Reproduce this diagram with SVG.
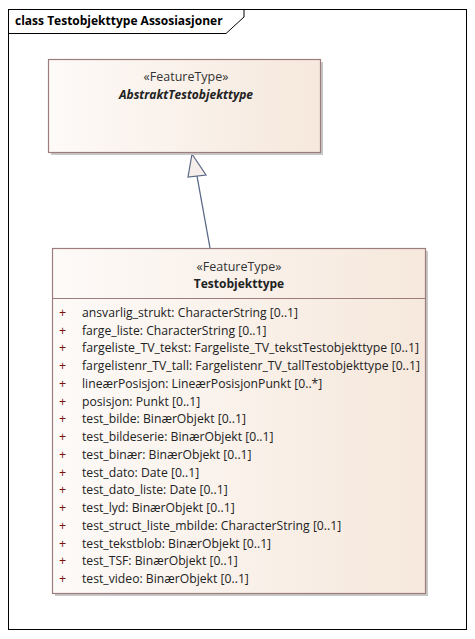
<svg xmlns="http://www.w3.org/2000/svg" width="475" height="639" viewBox="0 0 475 639">
<defs>
<linearGradient id="g" x1="0" y1="0" x2="1" y2="0">
<stop offset="0" stop-color="#fdfaf8"/>
<stop offset="1" stop-color="#f6e8dc"/>
</linearGradient>
<style>
text{font-family:"Open Sans","Liberation Sans",sans-serif;fill:#222}
.st{font-size:12.5px;text-anchor:middle;fill:#333}
.nm{font-size:12px;font-weight:bold;text-anchor:middle}
.at{font-size:12.2px}
.pl{font-size:12.5px;fill:#7a1010}
.box{fill:url(#g);stroke:#9c7c7c;stroke-width:1.2}
.sh{fill:#c8c8c8}
</style>
</defs>
<rect x="0" y="0" width="475" height="639" fill="#fff"/>
<g id="frame">
<rect x="8.5" y="9.5" width="458" height="620" fill="none" stroke="#000" stroke-width="1"/>
<path d="M8.5 33.5 H226 L244 17 V9.5" fill="none" stroke="#000" stroke-width="1"/>
<text x="15" y="25" style="font-size:12px;font-weight:bold;fill:#000">class Testobjekttype Assosiasjoner</text>
</g>
<g id="connectors">
<line x1="210" y1="248" x2="197" y2="176" stroke="#5a6888" stroke-width="1.3"/>
<polygon points="192,154 188,177 206,175" fill="#f6eeea" stroke="#5a6888" stroke-width="1.2"/>
</g>
<g id="AbstraktTestobjekttype">
<rect class="sh" x="51" y="62" width="272" height="93"/>
<rect class="box" x="48.5" y="59.5" width="272" height="93"/>
<text class="st" x="186" y="81">«FeatureType»</text>
<text class="nm" x="186" y="99" font-style="italic">AbstraktTestobjekttype</text>
</g>
<g id="Testobjekttype">
<rect class="sh" x="55" y="251" width="373" height="345"/>
<rect class="box" x="52.5" y="248.5" width="373" height="345"/>
<line x1="52.5" y1="298.5" x2="425.5" y2="298.5" stroke="#9c7c7c" stroke-width="1.2"/>
<text class="st" x="239" y="271">«FeatureType»</text>
<text class="nm" x="239" y="288">Testobjekttype</text>
<g class="pl">
<text class="pl" x="59" y="317">+</text>
<text class="pl" x="59" y="335">+</text>
<text class="pl" x="59" y="352">+</text>
<text class="pl" x="59" y="370">+</text>
<text class="pl" x="59" y="388">+</text>
<text class="pl" x="59" y="406">+</text>
<text class="pl" x="59" y="423">+</text>
<text class="pl" x="59" y="441">+</text>
<text class="pl" x="59" y="459">+</text>
<text class="pl" x="59" y="477">+</text>
<text class="pl" x="59" y="494">+</text>
<text class="pl" x="59" y="512">+</text>
<text class="pl" x="59" y="530">+</text>
<text class="pl" x="59" y="548">+</text>
<text class="pl" x="59" y="565">+</text>
<text class="pl" x="59" y="583">+</text>
</g>
<text class="at" x="82" y="317">ansvarlig_strukt: CharacterString [0..1]</text>
<text class="at" x="82" y="335">farge_liste: CharacterString [0..1]</text>
<text class="at" x="82" y="352" textLength="337" lengthAdjust="spacingAndGlyphs">fargeliste_TV_tekst: Fargeliste_TV_tekstTestobjekttype [0..1]</text>
<text class="at" x="82" y="370" textLength="338" lengthAdjust="spacingAndGlyphs">fargelistenr_TV_tall: Fargelistenr_TV_tallTestobjekttype [0..1]</text>
<text class="at" x="82" y="388">lineærPosisjon: LineærPosisjonPunkt [0..*]</text>
<text class="at" x="82" y="406">posisjon: Punkt [0..1]</text>
<text class="at" x="82" y="423">test_bilde: BinærObjekt [0..1]</text>
<text class="at" x="82" y="441">test_bildeserie: BinærObjekt [0..1]</text>
<text class="at" x="82" y="459">test_binær: BinærObjekt [0..1]</text>
<text class="at" x="82" y="477">test_dato: Date [0..1]</text>
<text class="at" x="82" y="494">test_dato_liste: Date [0..1]</text>
<text class="at" x="82" y="512">test_lyd: BinærObjekt [0..1]</text>
<text class="at" x="82" y="530">test_struct_liste_mbilde: CharacterString [0..1]</text>
<text class="at" x="82" y="548">test_tekstblob: BinærObjekt [0..1]</text>
<text class="at" x="82" y="565">test_TSF: BinærObjekt [0..1]</text>
<text class="at" x="82" y="583">test_video: BinærObjekt [0..1]</text>
</g>
</svg>
